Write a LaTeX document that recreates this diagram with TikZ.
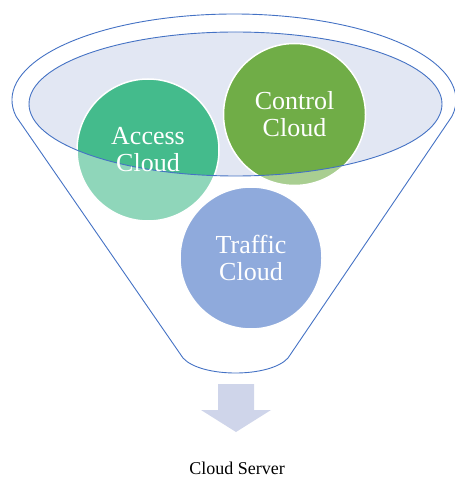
\documentclass[tikz,border=0pt]{standalone}
\usepackage{fontspec}
\setmainfont{Liberation Serif}
\usetikzlibrary{positioning}

\definecolor{funnelblue}{HTML}{4472C4}
\definecolor{rimfill}{HTML}{E2E7F3}
\definecolor{accesscol}{HTML}{44BB8C}
\definecolor{controlcol}{HTML}{70AD47}
\definecolor{trafficcol}{HTML}{4472C4}
\definecolor{arrowcol}{HTML}{CFD5EA}

\tikzset{
  disc/.style={circle,minimum size=142pt,inner sep=0pt,draw=white,line width=1.5pt},
  cloudtext/.style={text=white,font=\fontsize{26}{27}\selectfont,align=center},
  rimline/.style={draw=funnelblue,line width=0.9pt},
}

\begin{document}
\begin{tikzpicture}[x=1pt,y=-1pt]
      \useasboundingbox (0,0) rectangle (454,478);

      % funnel body
      \path[rimline] (234,100) ++(169:222 and 86)
        arc[start angle=169,end angle=371,x radius=222,y radius=86]
        -- (288,358) .. controls (270,378) and (201,378) .. (183,358) -- cycle;

      % pale discs
      \node[disc,fill=accesscol!60] (access) at (148,150) {};
      \node[disc,fill=controlcol!60] (control) at (294.5,114.5) {};
      \node[disc,fill=trafficcol!60] (traffic) at (251,258) {};

      % funnel mouth
      \fill[rimfill] (235.5,104) ellipse[x radius=206.5,y radius=72];
      \begin{scope}
        \clip (235.5,104) ellipse[x radius=206.5,y radius=72];
        \path[fill=accesscol,draw=white,line width=1.5pt] (access.center) circle[radius=71];
        \path[fill=controlcol,draw=white,line width=1.5pt] (control.center) circle[radius=71];
      \end{scope}
      \path[rimline] (235.5,104) ellipse[x radius=206.5,y radius=72];

      \node[cloudtext] (accesstext) at (access) {Access\\Cloud};
      \node[cloudtext] (controltext) at (control) {Control\\Cloud};
      \node[cloudtext] (traffictext) at (traffic) {Traffic\\Cloud};

      % output arrow
      \fill[arrowcol] (218,384) -- (254,384) -- (254,410) -- (271,410)
        -- (236,432) -- (201,410) -- (218,410) -- cycle;
      \node[anchor=base,inner sep=0pt,font=\fontsize{18}{20}\selectfont] (server) at (237,474) {Cloud Server};
\end{tikzpicture}
\end{document}
